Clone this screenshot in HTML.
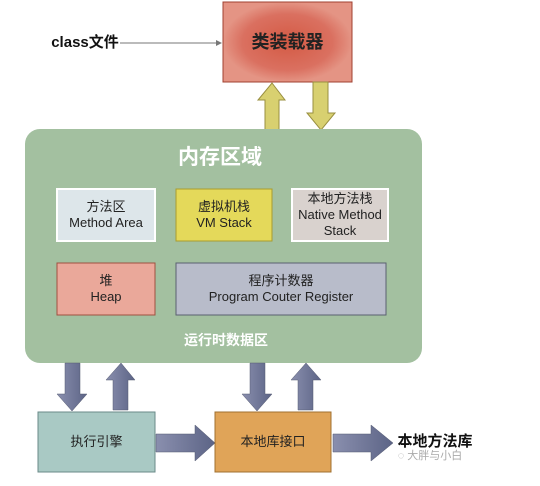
<!DOCTYPE html>
<html><head><meta charset="utf-8"><style>
body{margin:0;width:540px;height:486px;background:#fff;position:relative;overflow:hidden;font-family:"Liberation Sans","Noto Sans CJK SC",sans-serif}
.a{position:absolute;box-sizing:border-box;text-align:center;display:flex;flex-direction:column;justify-content:center;align-items:center;font-size:13px;line-height:16px;color:#222}
</style></head><body>
<svg width="540" height="486" style="position:absolute;left:0;top:0">
<defs>
<radialGradient id="r1"><stop offset="0" stop-color="#d45a44"/><stop offset="0.7" stop-color="#da7060"/><stop offset="1" stop-color="#e49484"/></radialGradient>
<linearGradient id="ga" x1="0" x2="1"><stop offset="0" stop-color="#8a8fae"/><stop offset="1" stop-color="#5c6486"/></linearGradient>
</defs>
<line x1="120" y1="43" x2="218" y2="43" stroke="#777" stroke-width="1"/>
<polygon points="222,43 216,40 216,46" fill="#777"/>
<rect x="223" y="2" width="129" height="80" fill="url(#r1)" stroke="#a04030"/>
<polygon points="265,130 279,130 279,100 285,100 272,83 258,100 265,100" fill="#d8d070" stroke="#998f40"/>
<polygon points="313,82 328,82 328,113 335,113 321,130 307,113 313,113" fill="#d8d070" stroke="#998f40"/>
<rect x="25" y="129" width="397" height="234" rx="15" fill="#a3c0a0"/>
<rect x="57" y="189" width="98" height="52" fill="#dde6ea" stroke="#fff" stroke-width="2"/>
<rect x="176" y="189" width="96" height="52" fill="#e4d95a" stroke="#a89c30"/>
<rect x="292" y="189" width="96" height="52" fill="#d9d2ce" stroke="#fff" stroke-width="2"/>
<rect x="57" y="263" width="98" height="52" fill="#eaa89a" stroke="#a05040"/>
<rect x="176" y="263" width="210" height="52" fill="#b8bcca" stroke="#5a6070"/>
<g fill="url(#ga)" stroke="#555a70" stroke-width="0.5">
<polygon points="65,363 80,363 80,394 87,394 72,411 57,394 65,394"/>
<polygon points="113,410 128,410 128,380 135,380 121,363 106,380 113,380"/>
<polygon points="250,363 265,363 265,394 272,394 257,411 242,394 250,394"/>
<polygon points="298,410 313,410 313,380 321,380 306,363 291,380 298,380"/>
<polygon points="156,434 195,434 195,425 215,443 195,461 195,452 156,452"/>
<polygon points="333,434 371,434 371,425 393,443 371,461 371,452 333,452"/>
</g>
<rect x="38" y="412" width="117" height="60" fill="#a9c9c4" stroke="#6a8a88"/>
<rect x="215" y="412" width="116" height="60" fill="#e0a458" stroke="#a07030"/>
</svg>
<div class="a" style="left:40px;top:34px;width:90px;height:18px;font-weight:bold;font-size:15px;color:#111">class文件</div>
<div class="a" style="left:223px;top:2px;width:129px;height:80px;font-weight:bold;font-size:18px;color:#222">类装载器</div>
<div class="a" style="left:150px;top:144px;width:140px;height:28px;font-size:21px;color:#fff;font-weight:bold">内存区域</div>
<div class="a" style="left:57px;top:189px;width:98px;height:52px">方法区<br>Method Area</div>
<div class="a" style="left:176px;top:189px;width:96px;height:52px">虚拟机栈<br>VM Stack</div>
<div class="a" style="left:292px;top:189px;width:96px;height:52px">本地方法栈<br>Native Method<br>Stack</div>
<div class="a" style="left:57px;top:263px;width:98px;height:52px">堆<br>Heap</div>
<div class="a" style="left:176px;top:263px;width:210px;height:52px">程序计数器<br>Program Couter Register</div>
<div class="a" style="left:166px;top:330px;width:120px;height:20px;color:#fff;font-weight:bold;font-size:14px">运行时数据区</div>
<div class="a" style="left:38px;top:412px;width:117px;height:60px">执行引擎</div>
<div class="a" style="left:215px;top:412px;width:116px;height:60px">本地库接口</div>
<div class="a" style="left:394px;top:432px;width:82px;height:20px;font-weight:bold;font-size:15px;color:#111">本地方法库</div>
<div class="a" style="left:390px;top:448px;width:80px;height:16px;font-size:11px;color:#aaa">◌ 大胖与小白</div>
</body></html>
